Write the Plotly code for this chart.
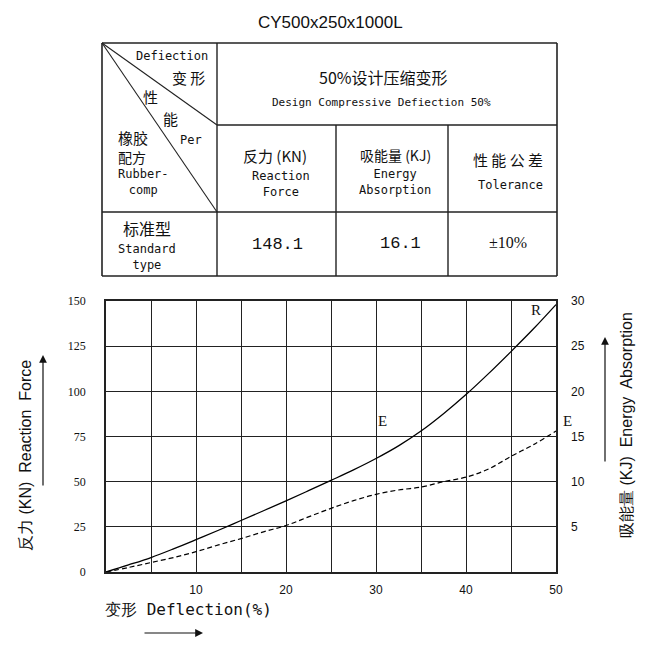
import plotly.graph_objects as go

# ---------------- data ----------------
deflection = [0, 2.5, 5, 7.5, 10, 12.5, 15, 17.5, 20, 22.5, 25, 27.5, 30,
              32.5, 35, 37.5, 40, 42.5, 45, 47.5, 50]
reaction_force = [0, 3.9, 8.0, 12.8, 17.9, 23.1, 28.5, 33.9, 39.4, 45.0, 50.7, 56.5, 62.8,
                  69.8, 78.0, 87.6, 98.2, 109.8, 122.0, 134.6, 148.0]
energy = [0, 0.5, 1.05, 1.6, 2.25, 3.0, 3.7, 4.45, 5.15, 6.1, 7.05, 7.9, 8.6,
          9.08, 9.4, 10.0, 10.5, 11.4, 12.8, 14.1, 15.6]

x_ticks = [0, 5, 10, 15, 20, 25, 30, 35, 40, 45, 50]
x_ticktext = ["", "", "10", "", "20", "", "30", "", "40", "", "50"]
y_ticks = [0, 25, 50, 75, 100, 125, 150]
y2_ticks = [0, 5, 10, 15, 20, 25, 30]
y2_ticktext = ["", "5", "10", "15", "20", "25", "30"]

title_text = "CY500x250x1000L"
table_values = ["148.1", "16.1", "±10%"]

# ---------------- layout helpers ----------------
OFF = 8  # page body margin
W, H = 650 - OFF, 655 - OFF
L, R, T, B = 106, 556, 301, 572  # plot area in screenshot pixels


def px(x):
    return (x - L) / (R - L)


def py(y):
    return (B - y) / (B - T)


fig = go.Figure()
fig.add_trace(go.Scatter(x=deflection, y=reaction_force, mode="lines",
                         line=dict(color="black", width=1.3, shape="spline", smoothing=1.0),
                         showlegend=False, hoverinfo="skip"))
fig.add_trace(go.Scatter(x=deflection, y=energy, mode="lines", yaxis="y2",
                         line=dict(color="black", width=1.2, shape="spline", smoothing=1.0,
                                   dash="5px,3px"),
                         showlegend=False, hoverinfo="skip"))

shapes = []


def line(x0, y0, x1, y1, w=1.4):
    shapes.append(dict(type="line", xref="paper", yref="paper",
                       x0=px(x0), y0=py(y0), x1=px(x1), y1=py(y1),
                       line=dict(color="#222", width=w)))


# table
TL, TR, TT, TB = 102, 557, 43, 276
line(TL, TT, TR, TT, 1.6)
line(TL, TB, TR, TB, 1.6)
line(TL, TT, TL, TB, 1.6)
line(TR, TT, TR, TB, 1.6)
line(217, TT, 217, TB)
line(217, 125, TR, 125)
line(TL, 212, TR, 212)
line(336, 125, 336, TB)
line(448, 125, 448, TB)
line(TL, TT, 217, 125, 1.1)
line(TL, TT, 217, 212, 1.1)

annotations = []

MONO = "DejaVu Sans Mono"
CJK = "Noto Sans CJK SC"


def text(s, x, y, size=12, font=MONO, xanchor="center", yanchor="middle", angle=0, color="#111"):
    annotations.append(dict(text=s, x=px(x), y=py(y), xref="paper", yref="paper",
                            showarrow=False, xanchor=xanchor, yanchor=yanchor,
                            textangle=angle,
                            font=dict(family=font, size=size, color=color)))


text(title_text, 330, 22, 17, "Liberation Sans")

text("Defiection", 210, 56, 12, MONO, xanchor="right")
text("变 形", 207, 77, 15, CJK, xanchor="right")
text("性", 150, 96, 15, CJK)
text("能", 170, 118, 15, CJK)
text("橡胶", 116, 138, 15, CJK, xanchor="left")
text("Per", 178, 140, 12, MONO, xanchor="left")
text("配方", 116, 157, 14, CJK, xanchor="left")
text("Rubber-<br>comp", 116, 182, 12, MONO, xanchor="left")

text("50%设计压缩变形", 383, 77, 16, CJK)
text("Design Compressive Defiection 50%", 381, 102, 11, MONO)

text("反力 (KN)", 275, 155, 15, CJK)
text("Reaction<br>Force", 281, 184, 12, MONO)

text("吸能量 (KJ)", 395, 155, 14, CJK)
text("Energy<br>Absorption", 395, 182, 12, MONO)

text("性 能 公 差", 508, 159, 15, CJK)
text("Tolerance", 510, 185, 12, MONO)

text("标准型", 147, 228, 16, CJK)
text("Standard<br>type", 147, 257, 12, MONO)

text(table_values[0], 277, 244, 17, "Liberation Mono")
text(table_values[1], 400, 243, 17, "Liberation Mono")
text(table_values[2], 508, 242, 16, "Liberation Serif")

# curve labels
text("R", 536, 310, 15, "Liberation Serif")
text("E", 382, 421, 15, "Liberation Serif")
text("E", 567, 421, 15, "Liberation Serif")

# axis titles
text("反力 (KN)  Reaction  Force", 25, 456, 16, "Liberation Sans", angle=-90)
text("吸能量 (KJ)  Energy  Absorption", 626, 425, 16, "Liberation Sans", angle=-90)
text("变形 Deflection(%)", 103, 609, 16, MONO, xanchor="left")


def arrow(xh, yh, ax, ay):
    annotations.append(dict(text="", x=px(xh), y=py(yh), xref="paper", yref="paper",
                            showarrow=True, ax=ax, ay=ay, arrowhead=2, arrowsize=1.3,
                            arrowwidth=1.2, arrowcolor="#111"))


arrow(43, 355, 0, 132)
arrow(605, 337, 0, 126)
arrow(203, 633, -60, 0)

fig.update_layout(
    width=W, height=H, autosize=False,
    margin=dict(l=L - OFF, r=650 - R, t=T - OFF, b=655 - B, pad=0),
    plot_bgcolor="white", paper_bgcolor="white",
    shapes=shapes, annotations=annotations,
    xaxis=dict(range=[0, 50], tickvals=x_ticks, ticktext=x_ticktext,
               showgrid=True, gridcolor="#222", gridwidth=1.3,
               showline=True, linecolor="#222", linewidth=1.5, mirror=True,
               zeroline=False, ticks="", ticklabelstandoff=6,
               tickfont=dict(family="Liberation Sans", size=12, color="#111")),
    yaxis=dict(range=[0, 150], tickvals=y_ticks,
               showgrid=True, gridcolor="#222", gridwidth=1.3,
               showline=True, linecolor="#222", linewidth=1.5, mirror=True,
               zeroline=False, ticks="", ticklabelstandoff=16,
               tickfont=dict(family="Liberation Serif", size=12, color="#111")),
    yaxis2=dict(range=[0, 30], tickvals=y2_ticks, ticktext=y2_ticktext,
                overlaying="y", side="right", showgrid=False,
                zeroline=False, ticks="", ticklabelstandoff=14,
                tickfont=dict(family="Liberation Sans", size=12, color="#111")),
)

fig.write_html("out.html")
